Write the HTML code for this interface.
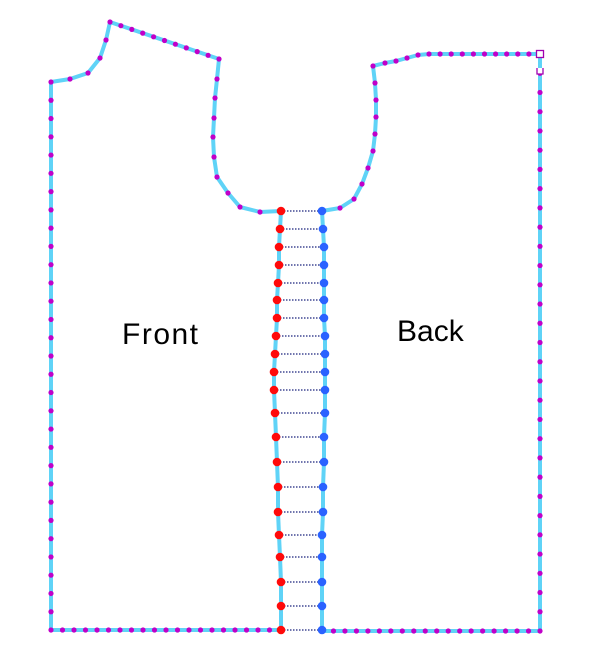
<!DOCTYPE html>
<html><head><meta charset="utf-8">
<style>
html,body{margin:0;padding:0;background:#fff;width:599px;height:662px;overflow:hidden}
svg{display:block}
text{font-family:"Liberation Sans",sans-serif}
</style></head>
<body>
<svg id="s" width="599" height="662" viewBox="0 0 599 662">
<g id="lines"></g>
<g id="dots"></g>
<text x="122" y="344" font-size="30" letter-spacing="1.5" fill="#000">Front</text>
<text x="397" y="341" font-size="30" fill="#000">Back</text>
</svg>
<script>
const seamY=[211,229,247,265,283,300,318,336,354,372,390,413,437,462,487,512,535,557,582,606,630];
const frontX=[281,280,279,279,278,277,277,276,275,274,274,275,276,277,278,278,279,280,281,281,281];
const backX=[322,323,324,324,324,324,324,325,325,325,325,325,324,324,323,323,322,322,322,322,322];
const NS='http://www.w3.org/2000/svg';
const L=document.getElementById('lines'),D=document.getElementById('dots');
function el(t,a,p){const e=document.createElementNS(NS,t);for(const k in a)e.setAttribute(k,a[k]);p.appendChild(e);return e;}
function poly(pts,name){
 const e=el('polyline',{points:pts.map(p=>p.join(',')).join(' '),fill:'none',stroke:'#5fd3f7','stroke-width':4,'stroke-linejoin':'round'},L);
 
 
}
function dots(pts,sp){
 for(let i=0;i<pts.length-1;i++){
  const [x1,y1]=pts[i],[x2,y2]=pts[i+1];const d=Math.hypot(x2-x1,y2-y1);const n=Math.max(1,Math.round(d/sp));
  for(let j=0;j<n;j++){const t=j/n;const c=el('circle',{cx:x1+(x2-x1)*t,cy:y1+(y2-y1)*t,r:2.6,fill:'#c000c8'},D);
   
   }
 }
}
const fBottom=[[281,630],[51,630]];
const fLeft=[[51,630],[51,82]];
const fNeck=[[51,82],[70,79],[88,73],[100,58],[106,40],[110,22]];
const fShoulder=[[110,22],[219,59]];
const fArm=[[219,59],[217,79],[215,98],[214,118],[213,137],[214,157],[217,177],[228,193],[240,207],[260,212],[281,211]];
const bArm=[[322,211],[340,208],[354,199],[362,184],[368,168],[373,151],[375,134],[376,117],[376,100],[375,83],[373,66]];
const bTop=[[373,66],[385,63],[396,61],[407,58],[418,55],[429,54],[540,54]];
const bRight=[[540,54],[540,631]];
const bBottom=[[540,631],[322,631]];
poly([...fBottom,...fLeft.slice(1),...fNeck.slice(1),...fShoulder.slice(1),...fArm.slice(1)],'front-outline');
poly([...bArm,...bTop.slice(1),...bRight.slice(1),...bBottom.slice(1)],'back-outline');
dots(fBottom,11.5);dots(fLeft,18.3);dots(fNeck,17);dots(fShoulder,11.5);dots(fArm,19.5);
dots(bArm,17);dots(bTop,11.3);dots(bRight,19);dots(bBottom,11.3);
poly(seamY.map((y,i)=>[frontX[i],y]),'front-seam');
poly(seamY.map((y,i)=>[backX[i],y]),'back-seam');
seamY.forEach((y,i)=>{
 const ln=el('line',{x1:frontX[i],y1:y,x2:backX[i],y2:y,stroke:'#1a237e','stroke-width':1.2,'stroke-dasharray':'1.5 1.5'},D);
 
 
 const r=el('circle',{cx:frontX[i],cy:y,r:4.3,fill:'#ff0a0a'},D);
 
 
 const b=el('circle',{cx:backX[i],cy:y,r:4.3,fill:'#2a62ff'},D);
 
 
});
const sq=el('rect',{x:536.5,y:50.5,width:7,height:7,fill:'#fff',stroke:'#a000b0','stroke-width':1.3},D);


const h=el('path',{d:'M537 68 V74 H543 V68',fill:'#fff',stroke:'#a000b0','stroke-width':1.3},D);


</script>
</body></html>
